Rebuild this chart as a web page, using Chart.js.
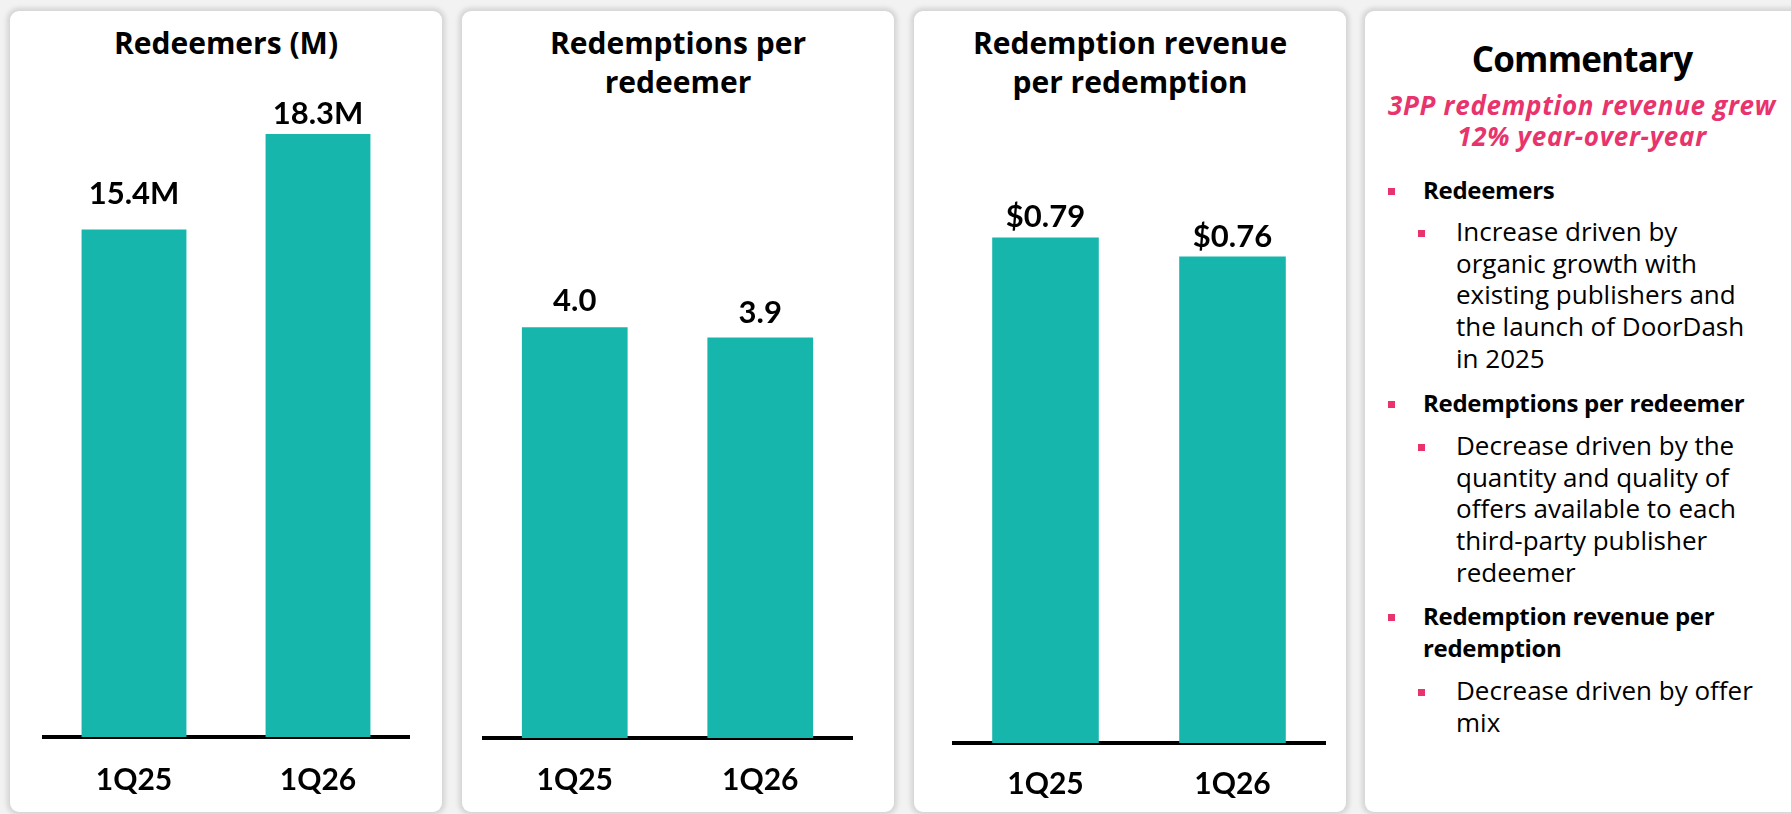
<!DOCTYPE html>
<html>
<head>
<meta charset="utf-8">
<script src="https://cdn.jsdelivr.net/npm/chart.js@4.4.1/dist/chart.umd.min.js"></script>
<style>
  html, body { margin:0; padding:0; width:1791px; height:814px; overflow:hidden; background:#f2f2f2; font-family:'Open Sans', sans-serif; color:#000; }
  .panel { position:absolute; top:11px; height:801px; background:#fff; border-radius:9px; box-shadow:0 0 5px 3px rgba(0,0,0,0.13); }
  .ctitle { position:absolute; text-align:center; font-weight:700; font-size:30px; line-height:39px; }
  canvas { position:absolute; }
  .abs { position:absolute; white-space:nowrap; }
  .comm-title { font-weight:700; font-size:35px; line-height:44px; text-align:center; letter-spacing:-0.8px; }
  .pink { color:#e8336d; font-weight:700; font-style:italic; font-size:26px; line-height:31px; text-align:center; letter-spacing:0.7px; }
  .l1 { font-weight:700; font-size:24px; line-height:32px; letter-spacing:-0.3px; }
  .l2 { font-weight:400; font-size:26px; line-height:31.7px; }
  .sq { position:absolute; width:7px; height:7px; background:#e8336d; }
</style>
</head>
<body>
<div class="panel" style="left:10px;width:432px"></div>
<div class="panel" style="left:462px;width:432px"></div>
<div class="panel" style="left:914px;width:432px"></div>
<div class="panel" style="left:1365px;width:440px"></div>

<div class="ctitle" style="left:10px;width:432px;top:23px">Redeemers (M)</div>
<div class="ctitle" style="left:462px;width:432px;top:23px">Redemptions per<br>redeemer</div>
<div class="ctitle" style="left:914px;width:432px;top:23px">Redemption revenue<br>per redemption</div>

<canvas id="c1"></canvas>
<canvas id="c2"></canvas>
<canvas id="c3"></canvas>

<div class="abs comm-title" style="left:1365px;width:434px;top:37px">Commentary</div>
<div class="abs pink" style="left:1365px;width:434px;top:90px">3PP redemption revenue grew<br>12% year-over-year</div>

<div class="sq" style="left:1388px;top:188px"></div>
<div class="abs l1" style="left:1423px;top:174px">Redeemers</div>
<div class="sq" style="left:1418px;top:230px"></div>
<div class="abs l2" style="left:1456px;top:216px">Increase driven by<br>organic growth with<br>existing publishers and<br>the launch of DoorDash<br>in 2025</div>

<div class="sq" style="left:1388px;top:401px"></div>
<div class="abs l1" style="left:1423px;top:387px">Redemptions per redeemer</div>
<div class="sq" style="left:1418px;top:444px"></div>
<div class="abs l2" style="left:1456px;top:430px">Decrease driven by the<br>quantity and quality of<br>offers available to each<br>third-party publisher<br>redeemer</div>

<div class="sq" style="left:1388px;top:614px"></div>
<div class="abs l1" style="left:1423px;top:600px">Redemption revenue per<br>redemption</div>
<div class="sq" style="left:1418px;top:689px"></div>
<div class="abs l2" style="left:1456px;top:675px">Decrease driven by offer<br>mix</div>

<script>
// ---- data ----
const categories = ['1Q25', '1Q26'];
const redeemersM = [15.4, 18.3];
const redemptionsPerRedeemer = [4.0, 3.9];
const revenuePerRedemption = [0.79, 0.76];

const TEAL = '#17b6ad';
const FONT = 'Lato';

const valueLabelPlugin = {
  id: 'valueLabels',
  afterDatasetsDraw(chart, args, opts) {
    const ctx = chart.ctx;
    const meta = chart.getDatasetMeta(0);
    const data = chart.data.datasets[0].data;
    ctx.save();
    ctx.font = 'bold 31px ' + FONT;
    ctx.fillStyle = '#000';
    ctx.textAlign = 'center';
    ctx.textBaseline = 'alphabetic';
    meta.data.forEach((bar, i) => {
      const gap = (opts.gaps && opts.gaps[i] != null) ? opts.gaps[i] : 12;
      ctx.fillText(opts.format(data[i]), bar.x, bar.y - gap);
    });
    ctx.restore();
  }
};

function makeChart(id, values, cfg) {
  const cv = document.getElementById(id);
  const width = cfg.right - cfg.left;
  const plotH = cfg.axisY - cfg.top;
  const axisH = 60;
  cv.width = width; cv.height = plotH + axisH;
  cv.style.left = cfg.left + 'px';
  cv.style.top = cfg.top + 'px';
  cv.style.width = width + 'px';
  cv.style.height = (plotH + axisH) + 'px';
  return new Chart(cv, {
    type: 'bar',
    data: {
      labels: categories,
      datasets: [{
        data: values,
        backgroundColor: TEAL,
        borderWidth: 0,
        categoryPercentage: 1.0,
        barPercentage: 0.57
      }]
    },
    options: {
      responsive: false,
      animation: false,
      devicePixelRatio: 1,
      layout: { padding: 0 },
      plugins: {
        legend: { display: false },
        tooltip: { enabled: false },
        title: { display: false },
        valueLabels: { gaps: cfg.gaps, format: cfg.format }
      },
      scales: {
        x: {
          grid: { display: false, drawTicks: false },
          border: { display: true, color: '#000', width: 4 },
          ticks: { color: '#000', padding: cfg.tickPad, font: { family: FONT, weight: 'bold', size: 30 } },
          afterFit: (s) => { s.height = axisH; }
        },
        y: { display: false, min: 0, max: cfg.max }
      }
    },
    plugins: [valueLabelPlugin]
  });
}

makeChart('c1', redeemersM, {
  left: 42, right: 410, axisY: 737, top: 78, max: 20, tickPad: 25,
  gaps: [26, 10], format: v => v.toFixed(1) + 'M'
});
makeChart('c2', redemptionsPerRedeemer, {
  left: 482, right: 853, axisY: 738, top: 122, max: 6, tickPad: 24,
  gaps: [16, 15], format: v => v.toFixed(1)
});
makeChart('c3', revenuePerRedemption, {
  left: 952, right: 1326, axisY: 743, top: 103, max: 1.0, tickPad: 23,
  gaps: [10, 10], format: v => '$' + v.toFixed(2)
});
</script>
</body>
</html>
